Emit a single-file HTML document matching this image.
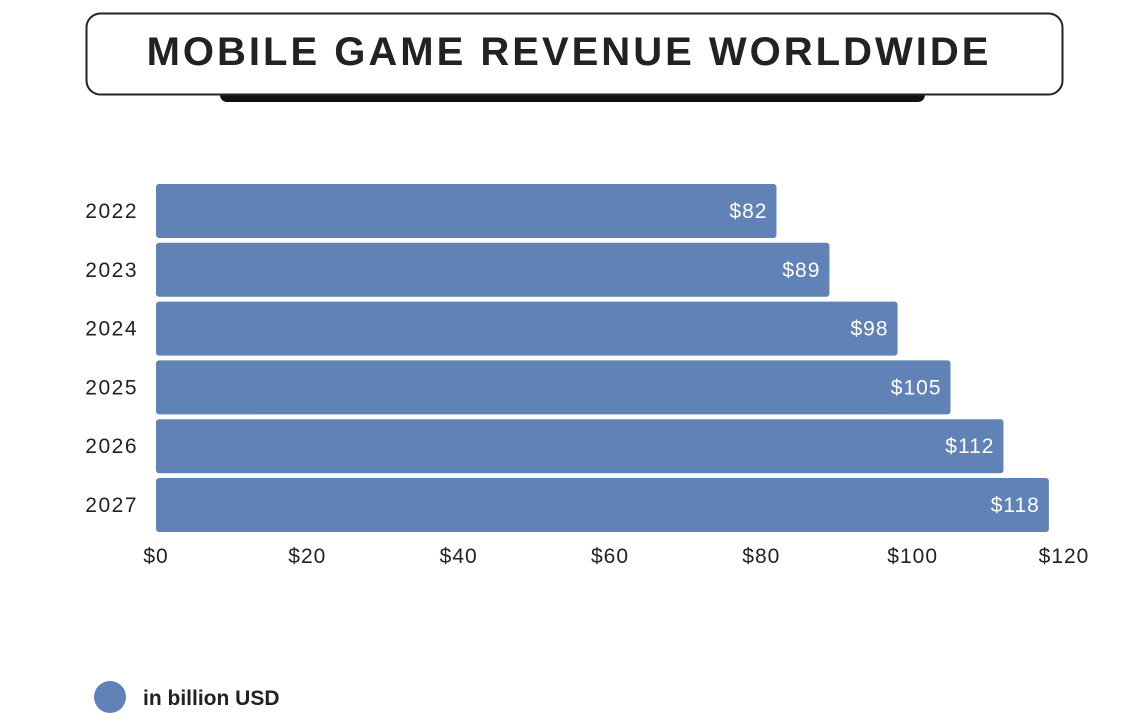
<!DOCTYPE html>
<html><head><meta charset="utf-8"><style>
body{margin:0;background:#fff;width:1121px;height:714px;overflow:hidden;font-family:"Liberation Sans",sans-serif}
</style></head><body>
<svg width="1121" height="714">
<rect x="220" y="88" width="705" height="14" rx="7" fill="#111"/>
<rect x="86.5" y="13.5" width="976" height="81" rx="14" fill="#fff" stroke="#222" stroke-width="2"/>
<text x="569" y="65" text-anchor="middle" font-size="40" font-weight="bold" fill="#222" letter-spacing="3">MOBILE GAME REVENUE WORLDWIDE</text>
<g id="bars"></g>
<g id="xticks"></g>
<circle cx="110" cy="697" r="16" fill="#6082b6"/>
<text x="143" y="705" font-size="21" font-weight="bold" fill="#222">in billion USD</text>
</svg>
<script>
const categories=["2022","2023","2024","2025","2026","2027"];
const values=[82,89,98,105,112,118];
const valueLabels=["$82","$89","$98","$105","$112","$118"];
const tickValues=[0,20,40,60,80,100,120];
const tickLabels=["$0","$20","$40","$60","$80","$100","$120"];
const NS="http://www.w3.org/2000/svg";
const x=v=>156+v*(1064-156)/120;
const y0=184,band=58.8,bh=54;
const bars=document.getElementById('bars');
categories.forEach((c,i)=>{
  const y=y0+i*band;
  const r=document.createElementNS(NS,'rect');
  r.setAttribute('x',x(0));r.setAttribute('y',y);r.setAttribute('width',x(values[i])-x(0));r.setAttribute('height',bh);r.setAttribute('rx',3);r.setAttribute('fill','#6082b6');
  
  
  bars.appendChild(r);
  const t=document.createElementNS(NS,'text');
  t.setAttribute('x',x(values[i])-9);t.setAttribute('y',y+bh/2+7);t.setAttribute('text-anchor','end');t.setAttribute('font-size','21');t.setAttribute('letter-spacing','1');t.setAttribute('fill','#fff');
  t.textContent=valueLabels[i];
  
  
  bars.appendChild(t);
  const l=document.createElementNS(NS,'text');
  l.setAttribute('x',138);l.setAttribute('y',y+bh/2+7);l.setAttribute('text-anchor','end');l.setAttribute('font-size','21');l.setAttribute('letter-spacing','1.5');l.setAttribute('fill','#222');
  l.textContent=c;
  
  
  bars.appendChild(l);
});
const xt=document.getElementById('xticks');
tickValues.forEach((v,i)=>{
  const t=document.createElementNS(NS,'text');
  t.setAttribute('x',x(v));t.setAttribute('y',563);t.setAttribute('text-anchor','middle');t.setAttribute('font-size','21');t.setAttribute('letter-spacing','1');t.setAttribute('fill','#222');
  t.textContent=tickLabels[i];
  
  
  xt.appendChild(t);
});
</script>
</body></html>
